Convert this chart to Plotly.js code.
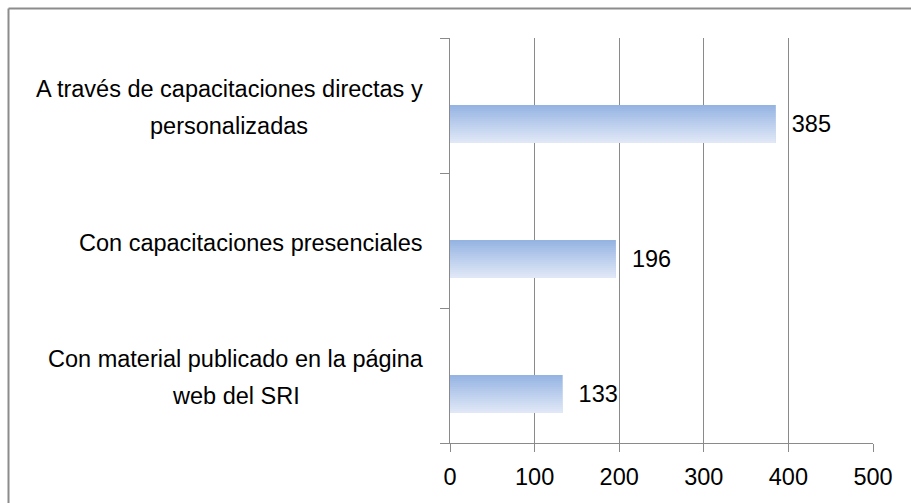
<!DOCTYPE html>
<html>
<head>
<meta charset="utf-8">
<script src="https://cdn.plot.ly/plotly-3.0.1.min.js"></script>
<style>
  html, body { margin: 0; padding: 0; background: #ffffff; }
  #chart { width: 911px; height: 503px; }
</style>
</head>
<body>
<div id="chart"></div>
<script>
// ---- data (top to bottom as shown) ----
var categories = [
  "A través de capacitaciones directas y<br>personalizadas",
  "Con capacitaciones presenciales",
  "Con material publicado en la página<br>web del SRI"
];
var values = [385, 196, 133];
var xTickValues = [0, 100, 200, 300, 400, 500];

// ---- style ----
var FONT = '"Liberation Sans", Arial, sans-serif';
var FS = 23.5;
var GRAY = '#8a8a8a';
var topColor = [150, 180, 226];
var botColor = [224, 232, 247];
var BAR_W = 0.28;      // bar thickness in category units
var BAR_SHIFT = -0.137; // bar centre below category centre (empty 2nd series slot)
var N = 19;            // gradient steps
var LINE_GAP = 37;     // px between label lines
var LABEL_RIGHT = 423; // px, right edge of category label block

function mix(a, b, t) {
  return 'rgb(' + a.map(function (v, i) { return Math.round(v + (b[i] - v) * t); }).join(',') + ')';
}

var traces = [];
var barTop = BAR_SHIFT + BAR_W / 2;
traces.push({
  type: 'bar', orientation: 'h',
  x: values, y: categories,
  width: BAR_W, offset: BAR_SHIFT - BAR_W / 2,
  marker: { color: mix(topColor, botColor, 0.5), line: { width: 0 } },
  text: values.map(String),
  texttemplate: '\u00a0\u00a0%{text}',
  textposition: 'outside',
  constraintext: 'none',
  cliponaxis: false,
  textfont: { family: FONT, size: FS, color: '#000000' },
  hoverinfo: 'skip', showlegend: false
});
var h = BAR_W / N;
for (var i = 0; i < N; i++) {
  traces.push({
    type: 'bar', orientation: 'h',
    x: values, y: categories,
    width: h, offset: barTop - (i + 1) * h,
    marker: { color: mix(topColor, botColor, i / (N - 1)), line: { width: 0 } },
    hoverinfo: 'skip', showlegend: false
  });
}

var L = 450, R = 38, T = 38, B = 60;
var PW = 911 - L - R, PH = 503 - T - B;
function px2x(p) { return (p - L) / PW; }
function py2y(p) { return (503 - B - p) / PH; }

// measure text so multi-line labels can be centred with Excel-like line spacing
var ctx = document.createElement('canvas').getContext('2d');
ctx.font = FS + 'px "Liberation Sans", Arial, sans-serif';
var annotations = [];
categories.forEach(function (c) {
  var lines = c.split('<br>');
  var maxW = Math.max.apply(null, lines.map(function (t) { return ctx.measureText(t).width; }));
  var cx = LABEL_RIGHT - maxW / 2;
  lines.forEach(function (t, k) {
    annotations.push({
      xref: 'paper', yref: 'y', x: px2x(cx), y: c,
      xanchor: 'center', yanchor: 'middle',
      yshift: ((lines.length - 1) / 2 - k) * LINE_GAP - 2,
      text: t, showarrow: false, align: 'center',
      font: { family: FONT, size: FS, color: '#000000' }
    });
  });
});

var layout = {
  width: 911, height: 503,
  margin: { l: L, r: R, t: T, b: B, pad: 0 },
  paper_bgcolor: '#ffffff', plot_bgcolor: '#ffffff',
  barmode: 'overlay',
  showlegend: false,
  font: { family: FONT, size: FS, color: '#000000' },
  xaxis: {
    range: [0, 500], tickvals: xTickValues, ticktext: xTickValues.map(String),
    showgrid: true, gridcolor: GRAY, gridwidth: 1,
    zeroline: false, showline: true, linecolor: GRAY, linewidth: 1,
    ticks: 'outside', ticklen: 8, tickcolor: GRAY, tickwidth: 1,
    ticklabelstandoff: 5,
    tickfont: { family: FONT, size: FS, color: '#000000' },
    fixedrange: true
  },
  yaxis: {
    type: 'category', categoryorder: 'array', categoryarray: categories.slice().reverse(),
    range: [-0.5, 2.5],
    showgrid: false, zeroline: false, showline: true, linecolor: GRAY, linewidth: 1,
    ticks: 'outside', tickson: 'boundaries', ticklen: 9, tickcolor: GRAY, tickwidth: 1,
    showticklabels: false, fixedrange: true
  },
  annotations: annotations,
  shapes: [
    { type: 'line', xref: 'paper', yref: 'paper', x0: px2x(8.5), x1: px2x(8.5), y0: py2y(8.5), y1: py2y(520),
      line: { color: '#8c8c8c', width: 2 } },
    { type: 'line', xref: 'paper', yref: 'paper', x0: px2x(8.5), x1: px2x(930), y0: py2y(8.5), y1: py2y(8.5),
      line: { color: '#8c8c8c', width: 2 } }
  ]
};

Plotly.newPlot('chart', traces, layout, { displayModeBar: false, staticPlot: true });
</script>
</body>
</html>
